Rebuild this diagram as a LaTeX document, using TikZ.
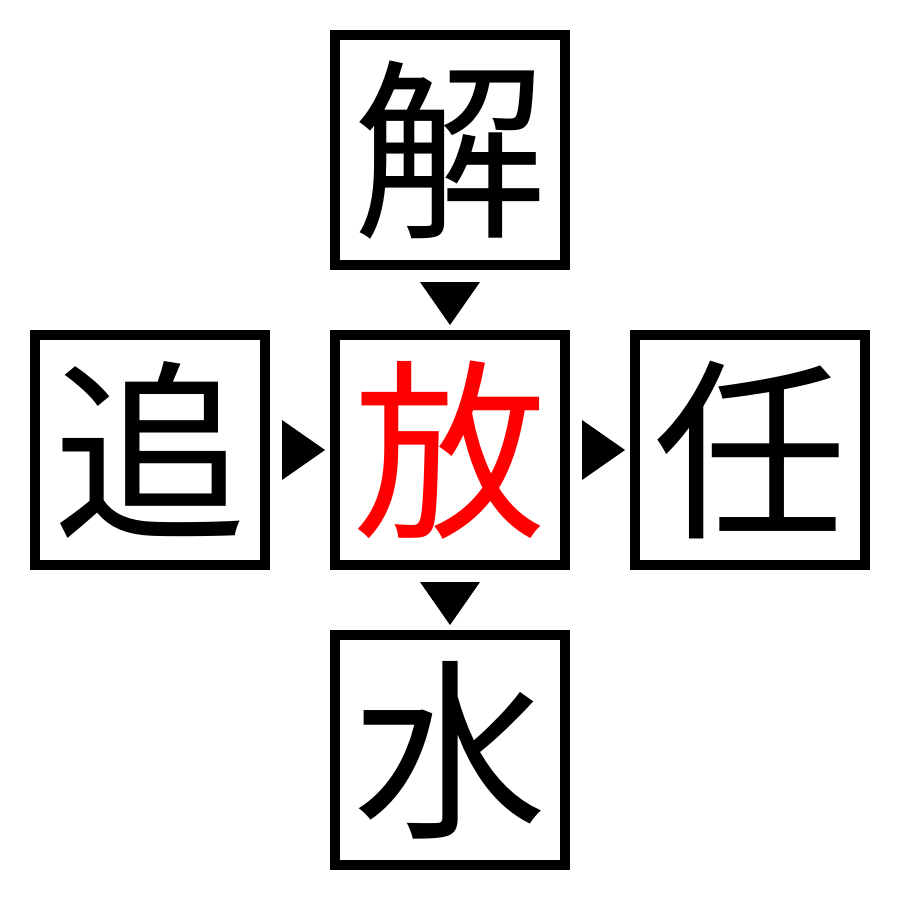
\documentclass[tikz,border=0pt]{standalone}
\usepackage{fontspec}
\usetikzlibrary{calc}
\newfontfamily\cjk{Noto Sans CJK JP}
\begin{document}
\begin{tikzpicture}[x=0.01cm,y=-0.01cm,
  charbox/.style={draw=black,line width=0.1cm,minimum size=2.3cm,inner sep=0pt,font=\cjk\fontsize{55}{55}\selectfont,text=black},
  tri/.style={fill=black,draw=none}]
\useasboundingbox (0,0) rectangle (900,900);
\node[charbox] (top) at (450,150) {解};
\node[charbox,text=red] (mid) at (450,450) {放};
\node[charbox] (left) at (150,450) {追};
\node[charbox] (right) at (750,450) {任};
\node[charbox] (bot) at (450,750) {水};
\coordinate (t1) at ($(top.south)!0.5!(mid.north)$);
\coordinate (t2) at ($(left.east)!0.5!(mid.west)$);
\coordinate (t3) at ($(mid.east)!0.5!(right.west)$);
\coordinate (t4) at ($(mid.south)!0.5!(bot.north)$);
\fill[tri] ([shift={(-30,-18)}]t1) -- ([shift={(30,-18)}]t1) -- ([shift={(0,25)}]t1) -- cycle;
\fill[tri] ([shift={(-30,-18)}]t4) -- ([shift={(30,-18)}]t4) -- ([shift={(0,25)}]t4) -- cycle;
\fill[tri] ([shift={(-18,-30)}]t2) -- ([shift={(-18,30)}]t2) -- ([shift={(25,0)}]t2) -- cycle;
\fill[tri] ([shift={(-18,-30)}]t3) -- ([shift={(-18,30)}]t3) -- ([shift={(25,0)}]t3) -- cycle;
\end{tikzpicture}
\end{document}
